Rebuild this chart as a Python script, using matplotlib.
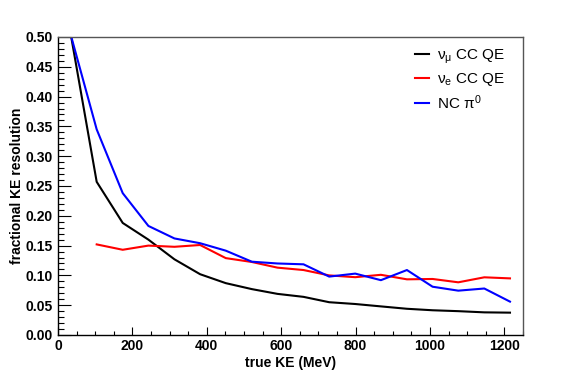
import matplotlib
matplotlib.use("Agg")
import matplotlib.pyplot as plt
from matplotlib.ticker import MultipleLocator, FormatStrFormatter

plt.rcParams['font.family'] = ['Liberation Sans', 'DejaVu Sans']
plt.rcParams['mathtext.fontset'] = 'custom'
plt.rcParams['mathtext.rm'] = 'Liberation Sans'
plt.rcParams['mathtext.it'] = 'Liberation Sans'
plt.rcParams['mathtext.bf'] = 'Liberation Sans:bold'

# bin centres (MeV)
ke = [35, 104, 174, 243, 313, 382, 451, 521, 590, 660, 729, 799, 868, 938, 1007, 1076, 1146, 1215]

numu_ccqe = [0.502, 0.257, 0.188, 0.160, 0.127, 0.102, 0.087, 0.077, 0.069, 0.064,
             0.055, 0.052, 0.048, 0.044, 0.0415, 0.040, 0.038, 0.0375]
# nue starts at the second bin
ke_nue = ke[1:]
nue_ccqe = [0.152, 0.143, 0.150, 0.148, 0.151, 0.129, 0.1225, 0.113, 0.109,
            0.100, 0.097, 0.101, 0.0934, 0.094, 0.0884, 0.0968, 0.095]
nc_pi0 = [0.502, 0.345, 0.238, 0.183, 0.162, 0.154, 0.1415, 0.123, 0.120, 0.1186,
          0.098, 0.103, 0.092, 0.109, 0.081, 0.0744, 0.078, 0.056]

fig = plt.figure(figsize=(5.81, 3.73), dpi=100)
ax = fig.add_axes([58/581, 38/373, 465/581, 298/373])

ax.plot(ke, numu_ccqe, color='black', lw=1.5, label=r'$\nu_{\mu}$ CC QE')
ax.plot(ke_nue, nue_ccqe, color='red', lw=1.5, label=r'$\nu_{e}$ CC QE')
ax.plot(ke, nc_pi0, color='blue', lw=1.5, label=r'NC $\pi^{0}$')

ax.set_xlim(0, 1250)
ax.set_ylim(0, 0.5)
ax.xaxis.set_major_locator(MultipleLocator(200))
ax.xaxis.set_minor_locator(MultipleLocator(50))
ax.yaxis.set_major_locator(MultipleLocator(0.05))
ax.yaxis.set_minor_locator(MultipleLocator(0.01))
ax.yaxis.set_major_formatter(FormatStrFormatter('%.2f'))

ax.tick_params(axis='both', which='both', direction='in', top=False, right=False,
               labelsize=10)
ax.tick_params(axis='y', which='major', length=9, width=0.8, pad=4)
ax.tick_params(axis='y', which='minor', length=4.5, width=0.8)
ax.tick_params(axis='x', which='major', length=6, width=0.8, pad=3)
ax.tick_params(axis='x', which='minor', length=3, width=0.8)
for lab in ax.get_xticklabels() + ax.get_yticklabels():
    lab.set_fontweight('bold')

for s in ['left', 'bottom']:
    ax.spines[s].set_linewidth(1.0)
    ax.spines[s].set_color('black')
for s in ['top', 'right']:
    ax.spines[s].set_linewidth(1.0)
    ax.spines[s].set_color('#555555')

ax.set_xlabel('true KE (MeV)', fontsize=10, fontweight='bold', labelpad=2)
ax.set_ylabel('fractional KE resolution', fontsize=10, fontweight='bold', labelpad=1)

ax.legend(loc='upper left', bbox_to_anchor=(0.714, 0.872), bbox_transform=fig.transFigure,
          frameon=False, fontsize=11, handlelength=0.95, handletextpad=0.5,
          labelspacing=0.33, borderpad=0, borderaxespad=0)

fig.savefig('out.png', dpi=100)
